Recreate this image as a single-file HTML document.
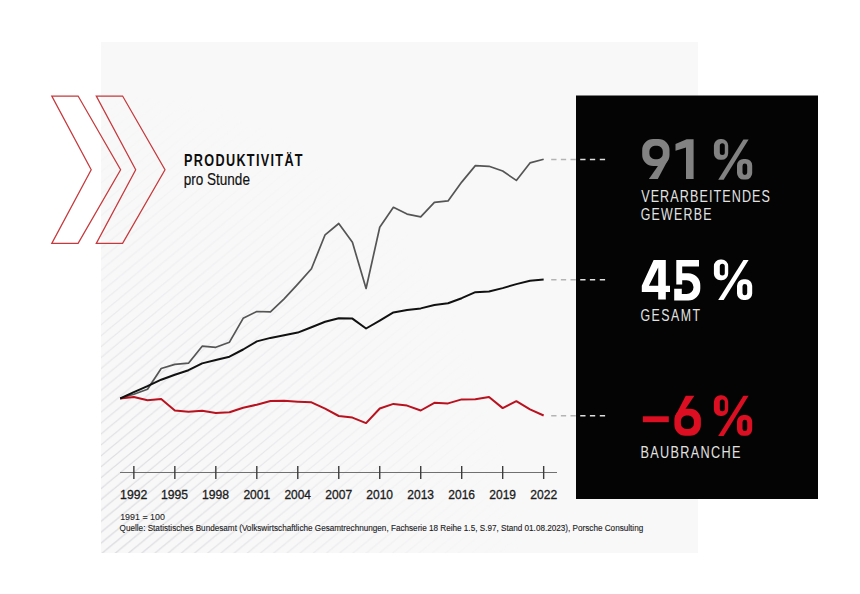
<!DOCTYPE html>
<html><head><meta charset="utf-8"><style>
html,body{margin:0;padding:0;background:#fff;}
body{width:860px;height:594px;overflow:hidden;position:relative;}
svg{position:absolute;left:0;top:0;display:block;}
</style></head><body>
<svg width="860" height="594" viewBox="0 0 860 594">
<defs>
<pattern id="stripes" patternUnits="userSpaceOnUse" width="13.2" height="10.92" patternTransform="translate(0,4.3)">
<path d="M-13.2,10.92 L13.2,-10.92 M0,10.92 L13.2,0 M0,21.84 L26.4,0" stroke="#d4d4d9" stroke-width="1"/>
</pattern>
<radialGradient id="fade" gradientUnits="userSpaceOnUse" cx="101" cy="553" r="470" gradientTransform="translate(101,553) scale(0.894,1) translate(-101,-553)">
<stop offset="0" stop-color="#fff" stop-opacity="1"/>
<stop offset="0.5" stop-color="#fff" stop-opacity="0.4"/>
<stop offset="0.8" stop-color="#fff" stop-opacity="0.1"/>
<stop offset="1" stop-color="#fff" stop-opacity="0"/>
</radialGradient>
<mask id="m" maskUnits="userSpaceOnUse" x="0" y="0" width="860" height="594"><rect x="101" y="42" width="597" height="511" fill="url(#fade)"/></mask>
</defs>
<rect x="101" y="42" width="597" height="511" fill="#f8f8f9"/>
<rect x="101" y="42" width="597" height="511" fill="url(#stripes)" mask="url(#m)"/>
<g fill="none" stroke="#c6383b" stroke-width="1.25" stroke-linejoin="miter">
<path d="M51.8,96 L78.1,96 L120.6,169.7 L78.1,243.4 L51.8,243.4 L91.2,169.7 Z"/>
<path d="M96.3,96 L122.6,96 L165,169.7 L122.6,243.4 L96.3,243.4 L135.7,169.7 Z"/>
</g>
<line x1="120" y1="472.5" x2="557" y2="472.5" stroke="#707070" stroke-width="1"/>
<g stroke="#3c3c3c" stroke-width="1.4" fill="none"><line x1="133.86" y1="466" x2="133.86" y2="479"/><line x1="174.84" y1="466" x2="174.84" y2="479"/><line x1="215.82" y1="466" x2="215.82" y2="479"/><line x1="256.80" y1="466" x2="256.80" y2="479"/><line x1="297.78" y1="466" x2="297.78" y2="479"/><line x1="338.76" y1="466" x2="338.76" y2="479"/><line x1="379.74" y1="466" x2="379.74" y2="479"/><line x1="420.72" y1="466" x2="420.72" y2="479"/><line x1="461.70" y1="466" x2="461.70" y2="479"/><line x1="502.68" y1="466" x2="502.68" y2="479"/><line x1="543.66" y1="466" x2="543.66" y2="479"/></g>
<polyline points="120.20,398.50 133.86,394.30 147.52,389.30 161.18,368.50 174.84,364.40 188.50,363.20 202.16,346.20 215.82,347.30 229.48,342.20 243.14,318.30 256.80,311.50 270.46,311.80 284.12,298.90 297.78,284.10 311.44,268.70 325.10,234.80 338.76,223.50 352.42,242.30 366.08,288.50 379.74,227.20 393.40,207.30 407.06,214.10 420.72,216.80 434.38,202.30 448.04,200.90 461.70,182.10 475.36,165.60 489.02,166.30 502.68,171.00 516.34,180.40 530.00,162.90 543.66,159.20" fill="none" stroke="#555" stroke-width="1.7" stroke-linejoin="round"/>
<polyline points="120.20,398.50 133.86,397.00 147.52,400.30 161.18,399.10 174.84,410.50 188.50,411.80 202.16,410.70 215.82,413.00 229.48,412.20 243.14,407.70 256.80,404.70 270.46,401.00 284.12,400.80 297.78,401.70 311.44,402.30 325.10,408.70 338.76,416.00 352.42,417.60 366.08,423.10 379.74,408.50 393.40,403.90 407.06,405.60 420.72,410.50 434.38,402.80 448.04,403.40 461.70,399.40 475.36,399.20 489.02,397.00 502.68,408.10 516.34,401.20 530.00,409.40 543.66,415.50" fill="none" stroke="#b9121f" stroke-width="2" stroke-linejoin="round"/>
<polyline points="120.20,398.50 133.86,392.20 147.52,386.20 161.18,379.70 174.84,374.70 188.50,370.20 202.16,363.40 215.82,360.00 229.48,356.70 243.14,349.50 256.80,341.40 270.46,337.90 284.12,335.30 297.78,332.60 311.44,327.20 325.10,321.80 338.76,318.30 352.42,318.60 366.08,328.50 379.74,320.60 393.40,312.40 407.06,310.00 420.72,308.40 434.38,305.00 448.04,303.30 461.70,298.20 475.36,292.20 489.02,291.50 502.68,288.10 516.34,284.10 530.00,280.70 543.66,279.50" fill="none" stroke="#111" stroke-width="2" stroke-linejoin="round"/>
<rect x="576" y="95.5" width="242" height="403.5" fill="#040404"/>
<g stroke-width="1.6" stroke-dasharray="5.3 4.35" stroke="#b4b4b4">
<line x1="551.2" y1="159.5" x2="576" y2="159.5"/>
<line x1="551.2" y1="279.8" x2="576" y2="279.8"/>
<line x1="551.2" y1="415.7" x2="576" y2="415.7"/>
</g>
<g stroke-width="1.6" stroke="#ddd">
<path d="M580.2,159.5h5.3M589.9,159.5h5.3M599.8,159.5h5.3"/>
<path d="M580.2,279.8h5.3M589.9,279.8h5.3M599.8,279.8h5.3"/>
<path d="M580.2,415.7h5.3M589.9,415.7h5.3M599.8,415.7h5.3"/>
</g>
<text transform="matrix(0.12674 0 0 0.15843 184.11 166.20)" font-family="Liberation Sans, sans-serif" font-size="100" font-weight="bold" letter-spacing="10.40" fill="#0d0d0d">PRODUKTIVITÄT</text>
<text transform="matrix(0.13556 0 0 0.16570 183.65 184.60)" font-family="Liberation Sans, sans-serif" font-size="100" font-weight="normal" fill="#111" stroke="#111" stroke-width="1.0">pro Stunde</text>
<text transform="matrix(0.12593 0 0 0.16570 641.17 201.60)" font-family="Liberation Sans, sans-serif" font-size="100" font-weight="normal" letter-spacing="8.62" fill="#e2e2e2">VERARBEITENDES</text>
<text transform="matrix(0.12372 0 0 0.16279 640.68 219.60)" font-family="Liberation Sans, sans-serif" font-size="100" font-weight="normal" letter-spacing="10.36" fill="#e2e2e2">GEWERBE</text>
<text transform="matrix(0.12372 0 0 0.16279 640.38 321.40)" font-family="Liberation Sans, sans-serif" font-size="100" font-weight="normal" letter-spacing="12.05" fill="#e2e2e2">GESAMT</text>
<text transform="matrix(0.12703 0 0 0.16715 640.38 457.50)" font-family="Liberation Sans, sans-serif" font-size="100" font-weight="normal" letter-spacing="10.55" fill="#e2e2e2">BAUBRANCHE</text>
<text transform="matrix(0.12249 0 0 0.12936 120.08 498.70)" font-family="Liberation Sans, sans-serif" font-size="100" font-weight="normal" fill="#1c1c1c" stroke="#1c1c1c" stroke-width="2.5">1992</text>
<text transform="matrix(0.12190 0 0 0.12936 161.06 498.70)" font-family="Liberation Sans, sans-serif" font-size="100" font-weight="normal" fill="#1c1c1c" stroke="#1c1c1c" stroke-width="2.5">1995</text>
<text transform="matrix(0.12190 0 0 0.12936 202.04 498.70)" font-family="Liberation Sans, sans-serif" font-size="100" font-weight="normal" fill="#1c1c1c" stroke="#1c1c1c" stroke-width="2.5">1998</text>
<text transform="matrix(0.12075 0 0 0.12936 243.40 498.70)" font-family="Liberation Sans, sans-serif" font-size="100" font-weight="normal" fill="#1c1c1c" stroke="#1c1c1c" stroke-width="2.5">2001</text>
<text transform="matrix(0.11963 0 0 0.12936 284.38 498.70)" font-family="Liberation Sans, sans-serif" font-size="100" font-weight="normal" fill="#1c1c1c" stroke="#1c1c1c" stroke-width="2.5">2004</text>
<text transform="matrix(0.12075 0 0 0.12936 325.36 498.70)" font-family="Liberation Sans, sans-serif" font-size="100" font-weight="normal" fill="#1c1c1c" stroke="#1c1c1c" stroke-width="2.5">2007</text>
<text transform="matrix(0.12019 0 0 0.12936 366.34 498.70)" font-family="Liberation Sans, sans-serif" font-size="100" font-weight="normal" fill="#1c1c1c" stroke="#1c1c1c" stroke-width="2.5">2010</text>
<text transform="matrix(0.12019 0 0 0.12936 407.32 498.70)" font-family="Liberation Sans, sans-serif" font-size="100" font-weight="normal" fill="#1c1c1c" stroke="#1c1c1c" stroke-width="2.5">2013</text>
<text transform="matrix(0.12019 0 0 0.12936 448.30 498.70)" font-family="Liberation Sans, sans-serif" font-size="100" font-weight="normal" fill="#1c1c1c" stroke="#1c1c1c" stroke-width="2.5">2016</text>
<text transform="matrix(0.12019 0 0 0.12936 489.28 498.70)" font-family="Liberation Sans, sans-serif" font-size="100" font-weight="normal" fill="#1c1c1c" stroke="#1c1c1c" stroke-width="2.5">2019</text>
<text transform="matrix(0.12075 0 0 0.12936 530.26 498.70)" font-family="Liberation Sans, sans-serif" font-size="100" font-weight="normal" fill="#1c1c1c" stroke="#1c1c1c" stroke-width="2.5">2022</text>
<text transform="matrix(0.08880 0 0 0.09593 120.19 519.70)" font-family="Liberation Sans, sans-serif" font-size="100" font-weight="normal" fill="#1e1e1e" stroke="#1e1e1e" stroke-width="1">1991 = 100</text>
<text transform="matrix(0.08165 0 0 0.09738 119.59 530.60)" font-family="Liberation Sans, sans-serif" font-size="100" font-weight="normal" fill="#1e1e1e" stroke="#1e1e1e" stroke-width="1.5">Quelle: Statistisches Bundesamt (Volkswirtschaftliche Gesamtrechnungen, Fachserie 18 Reihe 1.5, S.97, Stand 01.08.2023), Porsche Consulting</text>
<g fill="#828282"><g transform="translate(642.2,139)"><path fill-rule="evenodd" d="M11.00,0.00 H16.30 A11.00,11.00 0 0 1 27.30,11.00 V16.00 A11.00,11.00 0 0 1 16.30,27.00 H11.00 A11.00,11.00 0 0 1 0.00,16.00 V11.00 A11.00,11.00 0 0 1 11.00,0.00 Z M12.70,6.80 H15.10 A5.50,5.50 0 0 1 20.60,12.30 V14.70 A5.50,5.50 0 0 1 15.10,20.20 H12.70 A5.50,5.50 0 0 1 7.20,14.70 V12.30 A5.50,5.50 0 0 1 12.70,6.80 Z"/><path d="M17.5,24.5 L26.5,19.5 L15.6,40 L6.7,40 Z"/></g><path d="M675.5,144.1 L686.6,139.2 L693.6,139.2 L693.6,179.1 L686.0,179.1 L686.0,147.6 L675.5,150.8 Z"/><g transform="translate(713.9,139.1)"><path fill-rule="evenodd" d="M6.50,0.00 H7.80 A6.50,6.50 0 0 1 14.30,6.50 V14.20 A6.50,6.50 0 0 1 7.80,20.70 H6.50 A6.50,6.50 0 0 1 0.00,14.20 V6.50 A6.50,6.50 0 0 1 6.50,0.00 Z M8.40,4.20 H8.40 A2.50,2.50 0 0 1 10.90,6.70 V13.50 A2.50,2.50 0 0 1 8.40,16.00 H8.40 A2.50,2.50 0 0 1 5.90,13.50 V6.70 A2.50,2.50 0 0 1 8.40,4.20 Z"/><path fill-rule="evenodd" d="M29.60,19.80 H31.80 A6.50,6.50 0 0 1 38.30,26.30 V34.00 A6.50,6.50 0 0 1 31.80,40.50 H29.60 A6.50,6.50 0 0 1 23.10,34.00 V26.30 A6.50,6.50 0 0 1 29.60,19.80 Z M30.95,24.50 H30.95 A2.35,2.35 0 0 1 33.30,26.85 V33.45 A2.35,2.35 0 0 1 30.95,35.80 H30.95 A2.35,2.35 0 0 1 28.60,33.45 V26.85 A2.35,2.35 0 0 1 30.95,24.50 Z"/><path d="M29.5,0.5 L34.7,0.5 L9.7,40.6 L4.3,40.6 Z"/></g></g>
<g fill="#fff"><path fill-rule="evenodd" d="M653.6,259.9 L665.8,259.9 L665.8,285.7 L670,285.7 L670,292 L665.8,292 L665.8,299.6 L658.2,299.6 L658.2,292 L641.8,292 L641.8,285.7 Z M658.2,267.4 L658.2,285.7 L648.9,285.7 Z"/><path d="M676.3,259.9 H699.0 V266.4 H682.2 V273.3 H688.3 A12,12 0 0 1 700.3,285.3 V288.4 A12,12 0 0 1 688.3,300.4 H674.2 V288.7 H681.8 V294.1 H686.6 A6.9,6.9 0 0 0 693.5,287.2 V287.1 A6.9,6.9 0 0 0 686.6,280.2 H682.2 V284.6 H676.3 Z"/><g transform="translate(713.9,259.5)"><path fill-rule="evenodd" d="M6.50,0.00 H7.80 A6.50,6.50 0 0 1 14.30,6.50 V14.20 A6.50,6.50 0 0 1 7.80,20.70 H6.50 A6.50,6.50 0 0 1 0.00,14.20 V6.50 A6.50,6.50 0 0 1 6.50,0.00 Z M8.40,4.20 H8.40 A2.50,2.50 0 0 1 10.90,6.70 V13.50 A2.50,2.50 0 0 1 8.40,16.00 H8.40 A2.50,2.50 0 0 1 5.90,13.50 V6.70 A2.50,2.50 0 0 1 8.40,4.20 Z"/><path fill-rule="evenodd" d="M29.60,19.80 H31.80 A6.50,6.50 0 0 1 38.30,26.30 V34.00 A6.50,6.50 0 0 1 31.80,40.50 H29.60 A6.50,6.50 0 0 1 23.10,34.00 V26.30 A6.50,6.50 0 0 1 29.60,19.80 Z M30.95,24.50 H30.95 A2.35,2.35 0 0 1 33.30,26.85 V33.45 A2.35,2.35 0 0 1 30.95,35.80 H30.95 A2.35,2.35 0 0 1 28.60,33.45 V26.85 A2.35,2.35 0 0 1 30.95,24.50 Z"/><path d="M29.5,0.5 L34.7,0.5 L9.7,40.6 L4.3,40.6 Z"/></g></g>
<g fill="#dc0f22"><rect x="642.9" y="416.3" width="25.9" height="5.9"/><g transform="translate(700.9,435.8) rotate(180) scale(0.971,1.0025)"><path fill-rule="evenodd" d="M11.00,0.00 H16.30 A11.00,11.00 0 0 1 27.30,11.00 V16.00 A11.00,11.00 0 0 1 16.30,27.00 H11.00 A11.00,11.00 0 0 1 0.00,16.00 V11.00 A11.00,11.00 0 0 1 11.00,0.00 Z M12.70,6.80 H15.10 A5.50,5.50 0 0 1 20.60,12.30 V14.70 A5.50,5.50 0 0 1 15.10,20.20 H12.70 A5.50,5.50 0 0 1 7.20,14.70 V12.30 A5.50,5.50 0 0 1 12.70,6.80 Z"/><path d="M17.5,24.5 L26.5,19.5 L15.6,40 L6.7,40 Z"/></g><g transform="translate(713.9,395.3)"><path fill-rule="evenodd" d="M6.50,0.00 H7.80 A6.50,6.50 0 0 1 14.30,6.50 V14.20 A6.50,6.50 0 0 1 7.80,20.70 H6.50 A6.50,6.50 0 0 1 0.00,14.20 V6.50 A6.50,6.50 0 0 1 6.50,0.00 Z M8.40,4.20 H8.40 A2.50,2.50 0 0 1 10.90,6.70 V13.50 A2.50,2.50 0 0 1 8.40,16.00 H8.40 A2.50,2.50 0 0 1 5.90,13.50 V6.70 A2.50,2.50 0 0 1 8.40,4.20 Z"/><path fill-rule="evenodd" d="M29.60,19.80 H31.80 A6.50,6.50 0 0 1 38.30,26.30 V34.00 A6.50,6.50 0 0 1 31.80,40.50 H29.60 A6.50,6.50 0 0 1 23.10,34.00 V26.30 A6.50,6.50 0 0 1 29.60,19.80 Z M30.95,24.50 H30.95 A2.35,2.35 0 0 1 33.30,26.85 V33.45 A2.35,2.35 0 0 1 30.95,35.80 H30.95 A2.35,2.35 0 0 1 28.60,33.45 V26.85 A2.35,2.35 0 0 1 30.95,24.50 Z"/><path d="M29.5,0.5 L34.7,0.5 L9.7,40.6 L4.3,40.6 Z"/></g></g>
</svg>
</body></html>
